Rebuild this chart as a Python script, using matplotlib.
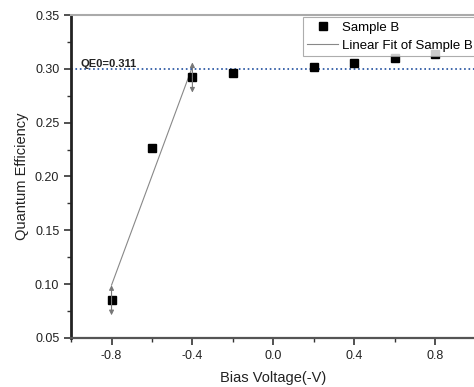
import numpy as np
import matplotlib.pyplot as plt
from matplotlib.ticker import MultipleLocator

plt.rcParams['font.family'] = ['Liberation Sans', 'DejaVu Sans']

# Sample B data
bias = [-0.8, -0.6, -0.4, -0.2, 0.2, 0.4, 0.6, 0.8]
qe = [0.085, 0.226, 0.292, 0.296, 0.302, 0.3055, 0.310, 0.3138]

# linear fit range (end points of the fitted line)
fit_x = [-0.8, -0.4]
fit_y = [0.099, 0.302]
qe0 = 0.30
arrow_len = 0.014

fig = plt.figure(figsize=(4.74, 3.87), dpi=100)
ax = fig.add_axes([0.15, 0.127, 0.853, 0.834])

ax.plot(bias, qe, 's', color='black', markersize=5.5, label='Sample B', zorder=3)
ax.plot(fit_x, fit_y, '-', color='#888888', linewidth=0.8, label='Linear Fit of Sample B')
ax.axhline(qe0, color='#1f4e9e', linestyle=':', linewidth=1.2)
ax.text(-0.955, qe0 + 0.002, 'QE0=0.311', fontsize=8, fontweight='bold', color='#222222')

# double arrows at the ends of fit range
for xv in fit_x:
    yv = qe[bias.index(xv)]
    for d in (arrow_len, -arrow_len):
        ax.annotate('', xy=(xv, yv + d), xytext=(xv, yv),
                    arrowprops=dict(arrowstyle='-|>', color='#777777', lw=0.8,
                                    mutation_scale=7, shrinkA=0, shrinkB=0))

ax.set_xlim(-1.0, 1.0)
ax.set_ylim(0.05, 0.35)
ax.xaxis.set_major_locator(MultipleLocator(0.4))
ax.xaxis.set_minor_locator(MultipleLocator(0.2))
ax.yaxis.set_major_locator(MultipleLocator(0.05))
ax.yaxis.set_minor_locator(MultipleLocator(0.025))
ax.set_xticks([-0.8, -0.4, 0.0, 0.4, 0.8])
ax.set_xticklabels(['-0.8', '-0.4', '0.0', '0.4', '0.8'])
ax.yaxis.set_major_formatter(plt.FuncFormatter(lambda v, p: f'{v:.2f}'))

ax.tick_params(which='major', direction='out', length=5, width=1.2, labelsize=9, colors='#333333')
ax.tick_params(which='minor', direction='out', length=3, width=1.0, colors='#333333')
ax.tick_params(axis='both', labelcolor='#222222')

ax.spines['left'].set_linewidth(2.0)
ax.spines['left'].set_color('#222222')
ax.spines['bottom'].set_linewidth(1.6)
ax.spines['bottom'].set_color('#555555')
ax.spines['top'].set_linewidth(1.5)
ax.spines['top'].set_color('#aaaaaa')
ax.spines['right'].set_visible(False)

ax.set_xlabel('Bias Voltage(-V)', fontsize=10.5, color='#222222', labelpad=7)
ax.set_ylabel('Quantum Efficiency', fontsize=10.5, color='#222222', labelpad=4)

leg = ax.legend(loc='upper left', bbox_to_anchor=(0.573, 0.995), fontsize=9.5,
                frameon=True, fancybox=False, borderpad=0.35, handlelength=2.3,
                handletextpad=0.3, labelspacing=0.45, borderaxespad=0)
leg.get_frame().set_edgecolor('#999999')
leg.get_frame().set_linewidth(0.8)

fig.savefig('out.png', dpi=100)
